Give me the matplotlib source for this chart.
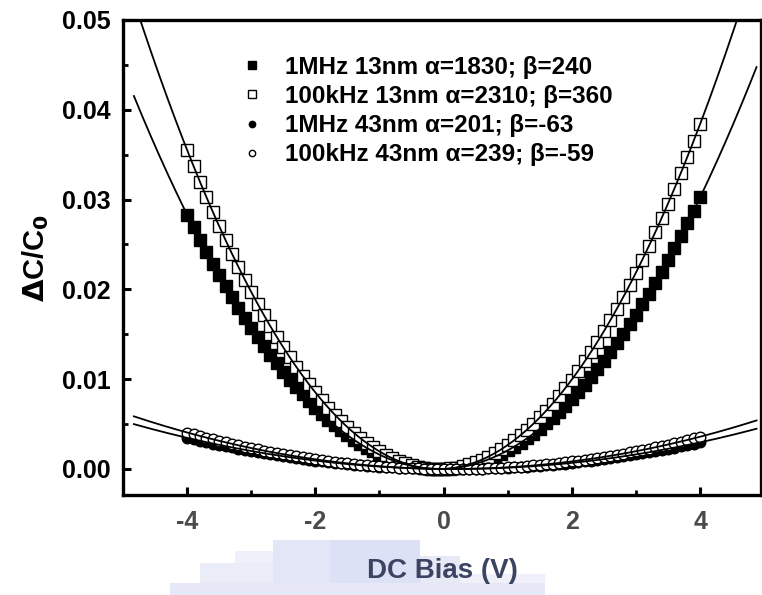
import numpy as np
import matplotlib
matplotlib.use("Agg")
import matplotlib.pyplot as plt
from matplotlib.patches import Rectangle

plt.rcParams['font.family'] = ['Liberation Sans', 'DejaVu Sans']
plt.rcParams['font.weight'] = 'bold'
plt.rcParams['axes.unicode_minus'] = False

# Datos: polarizacion DC (V) y dC/C0 (en unidades de 1e-4)
volts = np.linspace(-4.0, 4.0, 81)

dc_1mhz_13 = np.array([
    283.2, 269.0, 255.1, 241.6, 228.5, 215.8, 203.4, 191.4, 179.7, 168.4,
    157.5, 146.9, 136.8, 126.9, 117.5, 108.4, 99.6, 91.3, 83.3, 75.7,
    68.4, 61.5, 55.0, 48.8, 43.0, 37.6, 32.5, 27.8, 23.5, 19.5,
    15.9, 12.7, 9.8, 7.3, 5.1, 3.4, 2.0, 0.9, 0.3, -0.1,
    0.0,
    0.4, 1.2, 2.4, 3.9, 5.8, 8.0, 10.6, 13.6, 17.0, 20.7,
    24.8, 29.2, 34.0, 39.2, 44.8, 50.7, 57.0, 63.6, 70.6, 78.0,
    85.7, 93.9, 102.3, 111.2, 120.4, 129.9, 139.9, 150.2, 160.9, 171.9,
    183.3, 195.1, 207.2, 219.7, 232.6, 245.8, 259.4, 273.4, 287.7, 302.4]) * 1e-4

dc_100k_13 = np.array([
    355.2, 337.3, 319.9, 302.9, 286.4, 270.4, 254.8, 239.7, 225.0, 210.8,
    197.1, 183.8, 171.0, 158.7, 146.8, 135.4, 124.4, 113.9, 103.9, 94.3,
    85.2, 76.6, 68.4, 60.6, 53.4, 46.6, 40.2, 34.4, 28.9, 24.0,
    19.5, 15.5, 11.9, 8.8, 6.2, 4.0, 2.3, 1.0, 0.2, -0.1,
    0.0,
    0.6, 1.6, 3.2, 5.1, 7.6, 10.5, 13.8, 17.7, 22.0, 26.7,
    31.9, 37.6, 43.7, 50.3, 57.4, 64.9, 72.9, 81.3, 90.2, 99.6,
    109.4, 119.7, 130.5, 141.7, 153.4, 165.5, 178.1, 191.2, 204.7, 218.7,
    233.2, 248.1, 263.4, 279.3, 295.6, 312.3, 329.6, 347.2, 365.4, 384.0]) * 1e-4

dc_1mhz_43 = np.array([
    34.68, 33.03, 31.42, 29.85, 28.32, 26.83, 25.38, 23.97, 22.60, 21.27,
    19.98, 18.73, 17.52, 16.35, 15.23, 14.14, 13.09, 12.08, 11.11, 10.19,
    9.30, 8.45, 7.65, 6.88, 6.15, 5.47, 4.82, 4.22, 3.65, 3.13,
    2.64, 2.20, 1.79, 1.43, 1.10, 0.82, 0.57, 0.37, 0.21, 0.08,
    0.0,
    -0.04, -0.05, -0.01, 0.07, 0.19, 0.35, 0.54, 0.78, 1.06, 1.38,
    1.74, 2.14, 2.58, 3.06, 3.58, 4.14, 4.74, 5.38, 6.06, 6.78,
    7.54, 8.34, 9.18, 10.07, 10.99, 11.95, 12.95, 13.99, 15.08, 16.20,
    17.36, 18.57, 19.81, 21.09, 22.42, 23.78, 25.19, 26.63, 28.12, 29.64]) * 1e-4

dc_100k_43 = np.array([
    40.60, 38.65, 36.75, 34.90, 33.10, 31.34, 29.63, 27.97, 26.36, 24.80,
    23.28, 21.81, 20.39, 19.02, 17.69, 16.41, 15.18, 14.00, 12.87, 11.78,
    10.74, 9.75, 8.81, 7.91, 7.06, 6.26, 5.51, 4.81, 4.15, 3.54,
    2.98, 2.47, 2.00, 1.58, 1.21, 0.89, 0.62, 0.39, 0.21, 0.08,
    0.0,
    -0.04, -0.02, 0.04, 0.15, 0.30, 0.51, 0.76, 1.06, 1.40, 1.80,
    2.24, 2.73, 3.27, 3.86, 4.49, 5.17, 5.90, 6.68, 7.51, 8.38,
    9.30, 10.27, 11.29, 12.35, 13.46, 14.62, 15.83, 17.09, 18.39, 19.74,
    21.14, 22.59, 24.08, 25.62, 27.21, 28.85, 30.54, 32.27, 34.05, 35.88]) * 1e-4

# Coeficientes del ajuste (ppm/V^2 y ppm/V)
alphas = [1830, 2310, 201, 239]
betas = [240, 360, -63, -59]
etiquetas = ["1MHz 13nm", "100kHz 13nm", "1MHz 43nm", "100kHz 43nm"]
series = [dc_1mhz_13, dc_100k_13, dc_1mhz_43, dc_100k_43]

marcadores = ['s', 's', 'o', 'o']
rellenos = ['black', 'white', 'black', 'white']
tamanos = [8.6, 8.6, 7.6, 7.6]

fig = plt.figure(figsize=(7.62, 5.95), dpi=100)
ax = fig.add_axes([123/762, 100/595, 638/762, 475/595])

for y, mk, fc, ms, et, a, b in zip(series, marcadores, rellenos, tamanos, etiquetas, alphas, betas):
    ax.plot(volts, y, linestyle='none', marker=mk, markersize=ms,
            markerfacecolor=fc, markeredgecolor='black', markeredgewidth=1.0,
            label=f"{et} \u03b1={a}; \u03b2={b}", zorder=2)

# Curvas de ajuste: dC/C0 = alpha*V^2 + beta*V
v_fit = np.linspace(-4.83, 4.88, 300)
for a, b in zip(alphas, betas):
    ax.plot(v_fit, a*1e-6*v_fit**2 + b*1e-6*v_fit, color='black', lw=1.3, zorder=3)

ax.set_xlim(-5.0, 4.95)
ax.set_ylim(-0.0029, 0.05)
ax.set_xticks([-4, -2, 0, 2, 4])
ax.set_xticks([-3, -1, 1, 3], minor=True)
ax.set_yticks([0.0, 0.01, 0.02, 0.03, 0.04, 0.05])
ax.set_yticks([0.005, 0.015, 0.025, 0.035, 0.045], minor=True)
ax.set_yticklabels(["0.00", "0.01", "0.02", "0.03", "0.04", "0.05"])

for s in ax.spines.values():
    s.set_linewidth(2.4)
ax.tick_params(which='major', direction='in', length=6, width=2.2, labelsize=18, top=False, right=False)
ax.tick_params(which='minor', direction='in', length=3.5, width=2.0, top=False, right=False)
ax.tick_params(axis='y', pad=9, labelcolor='black')
ax.tick_params(axis='x', pad=11, labelcolor='#4a4a4a')

ax.set_ylabel(r"$\mathbf{\Delta}$C/C$_\mathbf{0}$", fontsize=21, fontweight='bold', labelpad=8)
ax.set_xlabel("DC Bias (V)", fontsize=20, fontweight='bold', color='#3b4463', labelpad=17)

ax.legend(loc='upper left', bbox_to_anchor=(0.17, 0.95), frameon=False,
          handlelength=0.7, handletextpad=1.0, labelspacing=0.25, borderpad=0,
          markerscale=0.6, prop={'weight': 'bold', 'size': 17.5})

# Marca de agua de fondo (bloques celestes)
bloques = [
    (170, 583, 545, 595, '#e6e8f7'),
    (200, 563, 290, 583, '#eaecf8'),
    (235, 551, 275, 563, '#eff0f9'),
    (273, 540, 330, 583, '#e3e6f6'),
    (330, 540, 420, 583, '#dde1f5'),
    (420, 556, 460, 583, '#e7e9f7'),
    (460, 574, 545, 583, '#eff0f9'),
]
for x0, y0, x1, y1, c in bloques:
    fig.add_artist(Rectangle((x0/762, 1 - y1/595), (x1 - x0)/762, (y1 - y0)/595,
                             transform=fig.transFigure, facecolor=c, edgecolor='none', zorder=-1))

fig.savefig("out.png", dpi=100)
